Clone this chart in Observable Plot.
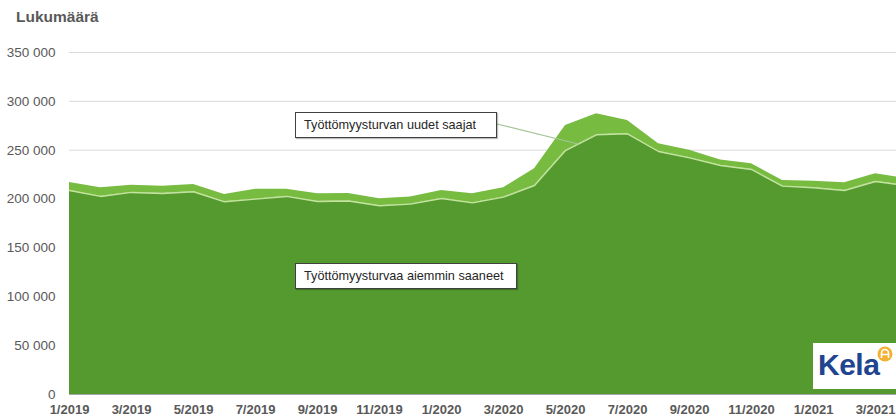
<!DOCTYPE html>
<html>
<head>
<meta charset="utf-8">
<script src="https://cdn.jsdelivr.net/npm/d3@7"></script>
<script src="https://cdn.jsdelivr.net/npm/@observablehq/plot@0.6"></script>
<style>
  html, body { margin: 0; padding: 0; background: #fff; overflow: hidden; }
  #wrap { position: relative; width: 896px; height: 417px; font-family: "Liberation Sans", Arial, sans-serif; }
  #title { position: absolute; left: 16px; top: 8px; font-size: 15.5px; font-weight: bold; color: #595959; }
  #chart { position: absolute; left: 0; top: 32px; }
  .note { position: absolute; background: #fff; border: 1px solid #404040; box-sizing: border-box;
          font-family: "Liberation Sans", Arial, sans-serif; font-size: 12.7px; color: #262626;
          padding-left: 8px; line-height: 24px; white-space: nowrap; box-shadow: 1px 1px 1px rgba(0,0,0,0.25); }
  #logo { position: absolute; left: 813px; top: 343px; width: 90px; height: 46px; background: #fff; }
  #logo span { position: absolute; left: 5px; top: 5px; font-family: "Liberation Sans", Arial, sans-serif;
               font-weight: bold; font-size: 30px; color: #1f4590; letter-spacing: -0.5px; }
</style>
</head>
<body>
<div id="wrap">
  <div id="title">Lukumäärä</div>
  <div id="chart"></div>
  <svg id="leader" width="896" height="417" style="position:absolute;left:0;top:0;pointer-events:none">
    <line x1="497" y1="124" x2="578" y2="144" stroke="#a3c496" stroke-width="1.2"/>
  </svg>
  <div class="note" style="left:295px;top:112px;width:202px;height:26px;">Työttömyysturvan uudet saajat</div>
  <div class="note" style="left:295px;top:263px;width:222px;height:26px;">Työttömyysturvaa aiemmin saaneet</div>
  <div id="logo">
    <span>Kela</span>
    <svg width="90" height="46" style="position:absolute;left:0;top:0">
      <circle cx="72" cy="11" r="7.5" fill="#f2b134"/>
      <path d="M68.5 15 V10 A3.5 3.5 0 0 1 75.5 10 V15 M68.5 11.5 H75.5" fill="none" stroke="#fff" stroke-width="1.6"/>
    </svg>
  </div>
</div>
<script>
// Month labels, 1/2019 .. 4/2021
const months = ["1/2019","2/2019","3/2019","4/2019","5/2019","6/2019","7/2019","8/2019","9/2019","10/2019","11/2019","12/2019",
                "1/2020","2/2020","3/2020","4/2020","5/2020","6/2020","7/2020","8/2020","9/2020","10/2020","11/2020","12/2020",
                "1/2021","2/2021","3/2021","4/2021"];
// Työttömyysturvaa aiemmin saaneet (previous recipients)
const previous = [208800,202700,206800,205700,207500,197200,199900,202700,197500,198000,193100,194800,
                  200600,196100,202000,213900,249700,265800,266800,248700,242200,234400,230300,213200,
                  211600,208800,218000,213700];
// Työttömyysturvan uudet saajat (new recipients)
const newRecipients = [8200,8900,7400,7500,7500,7500,10200,7400,7900,7800,7200,7200,
                       8200,9300,9600,17100,25600,21500,13600,7900,7800,5700,5800,5800,
                       6700,7900,7900,7300];
const seriesNames = ["Työttömyysturvaa aiemmin saaneet", "Työttömyysturvan uudet saajat"];
const xTickLabels = ["1/2019","3/2019","5/2019","7/2019","9/2019","11/2019","1/2020","3/2020","5/2020","7/2020","9/2020","11/2020","1/2021","3/2021"];
const yTicks = [0,50000,100000,150000,200000,250000,300000,350000];

const long = [];
months.forEach((m, i) => {
  long.push({i, month: m, series: seriesNames[0], value: previous[i]});
  long.push({i, month: m, series: seriesNames[1], value: newRecipients[i]});
});
const prevRows = months.map((m, i) => ({i, value: previous[i]}));
const tickIdx = xTickLabels.map(l => months.indexOf(l));
const fmt = d => d3.format(",")(d).replace(/,/g, " ");

const plot = Plot.plot({
  width: 896,
  height: 385,
  marginLeft: 69,
  marginRight: 0,
  marginTop: 20,
  marginBottom: 23,
  style: {color: "#595959", fontFamily: "Liberation Sans, Arial, sans-serif", background: "transparent"},
  x: {domain: [0, (896 - 69) / 31], axis: null},
  y: {domain: [0, 350000], axis: null},
  color: {domain: seriesNames, range: ["#549a2f", "#77bc41"]},
  marks: [
    Plot.gridY(yTicks.filter(d => d > 0), {stroke: "#d9d9d9", strokeOpacity: 1}),
    Plot.areaY(long, {x: "i", y: "value", fill: "series", order: seriesNames, clip: true}),
    Plot.lineY(prevRows, {x: "i", y: "value", stroke: "#c3e39f", strokeWidth: 1.4, clip: true}),
    Plot.ruleY([0], {stroke: "#a6a6a6", strokeWidth: 1.2}),
    Plot.axisY({ticks: yTicks, tickFormat: fmt, tickSize: 0, tickPadding: 14, fontSize: 13.5, label: null}),
    Plot.axisX({ticks: tickIdx, tickFormat: i => months[i], tickSize: 0, tickPadding: 10, fontSize: 13, fontWeight: "bold", label: null})
  ]
});
document.getElementById("chart").appendChild(plot);
</script>
</body>
</html>
